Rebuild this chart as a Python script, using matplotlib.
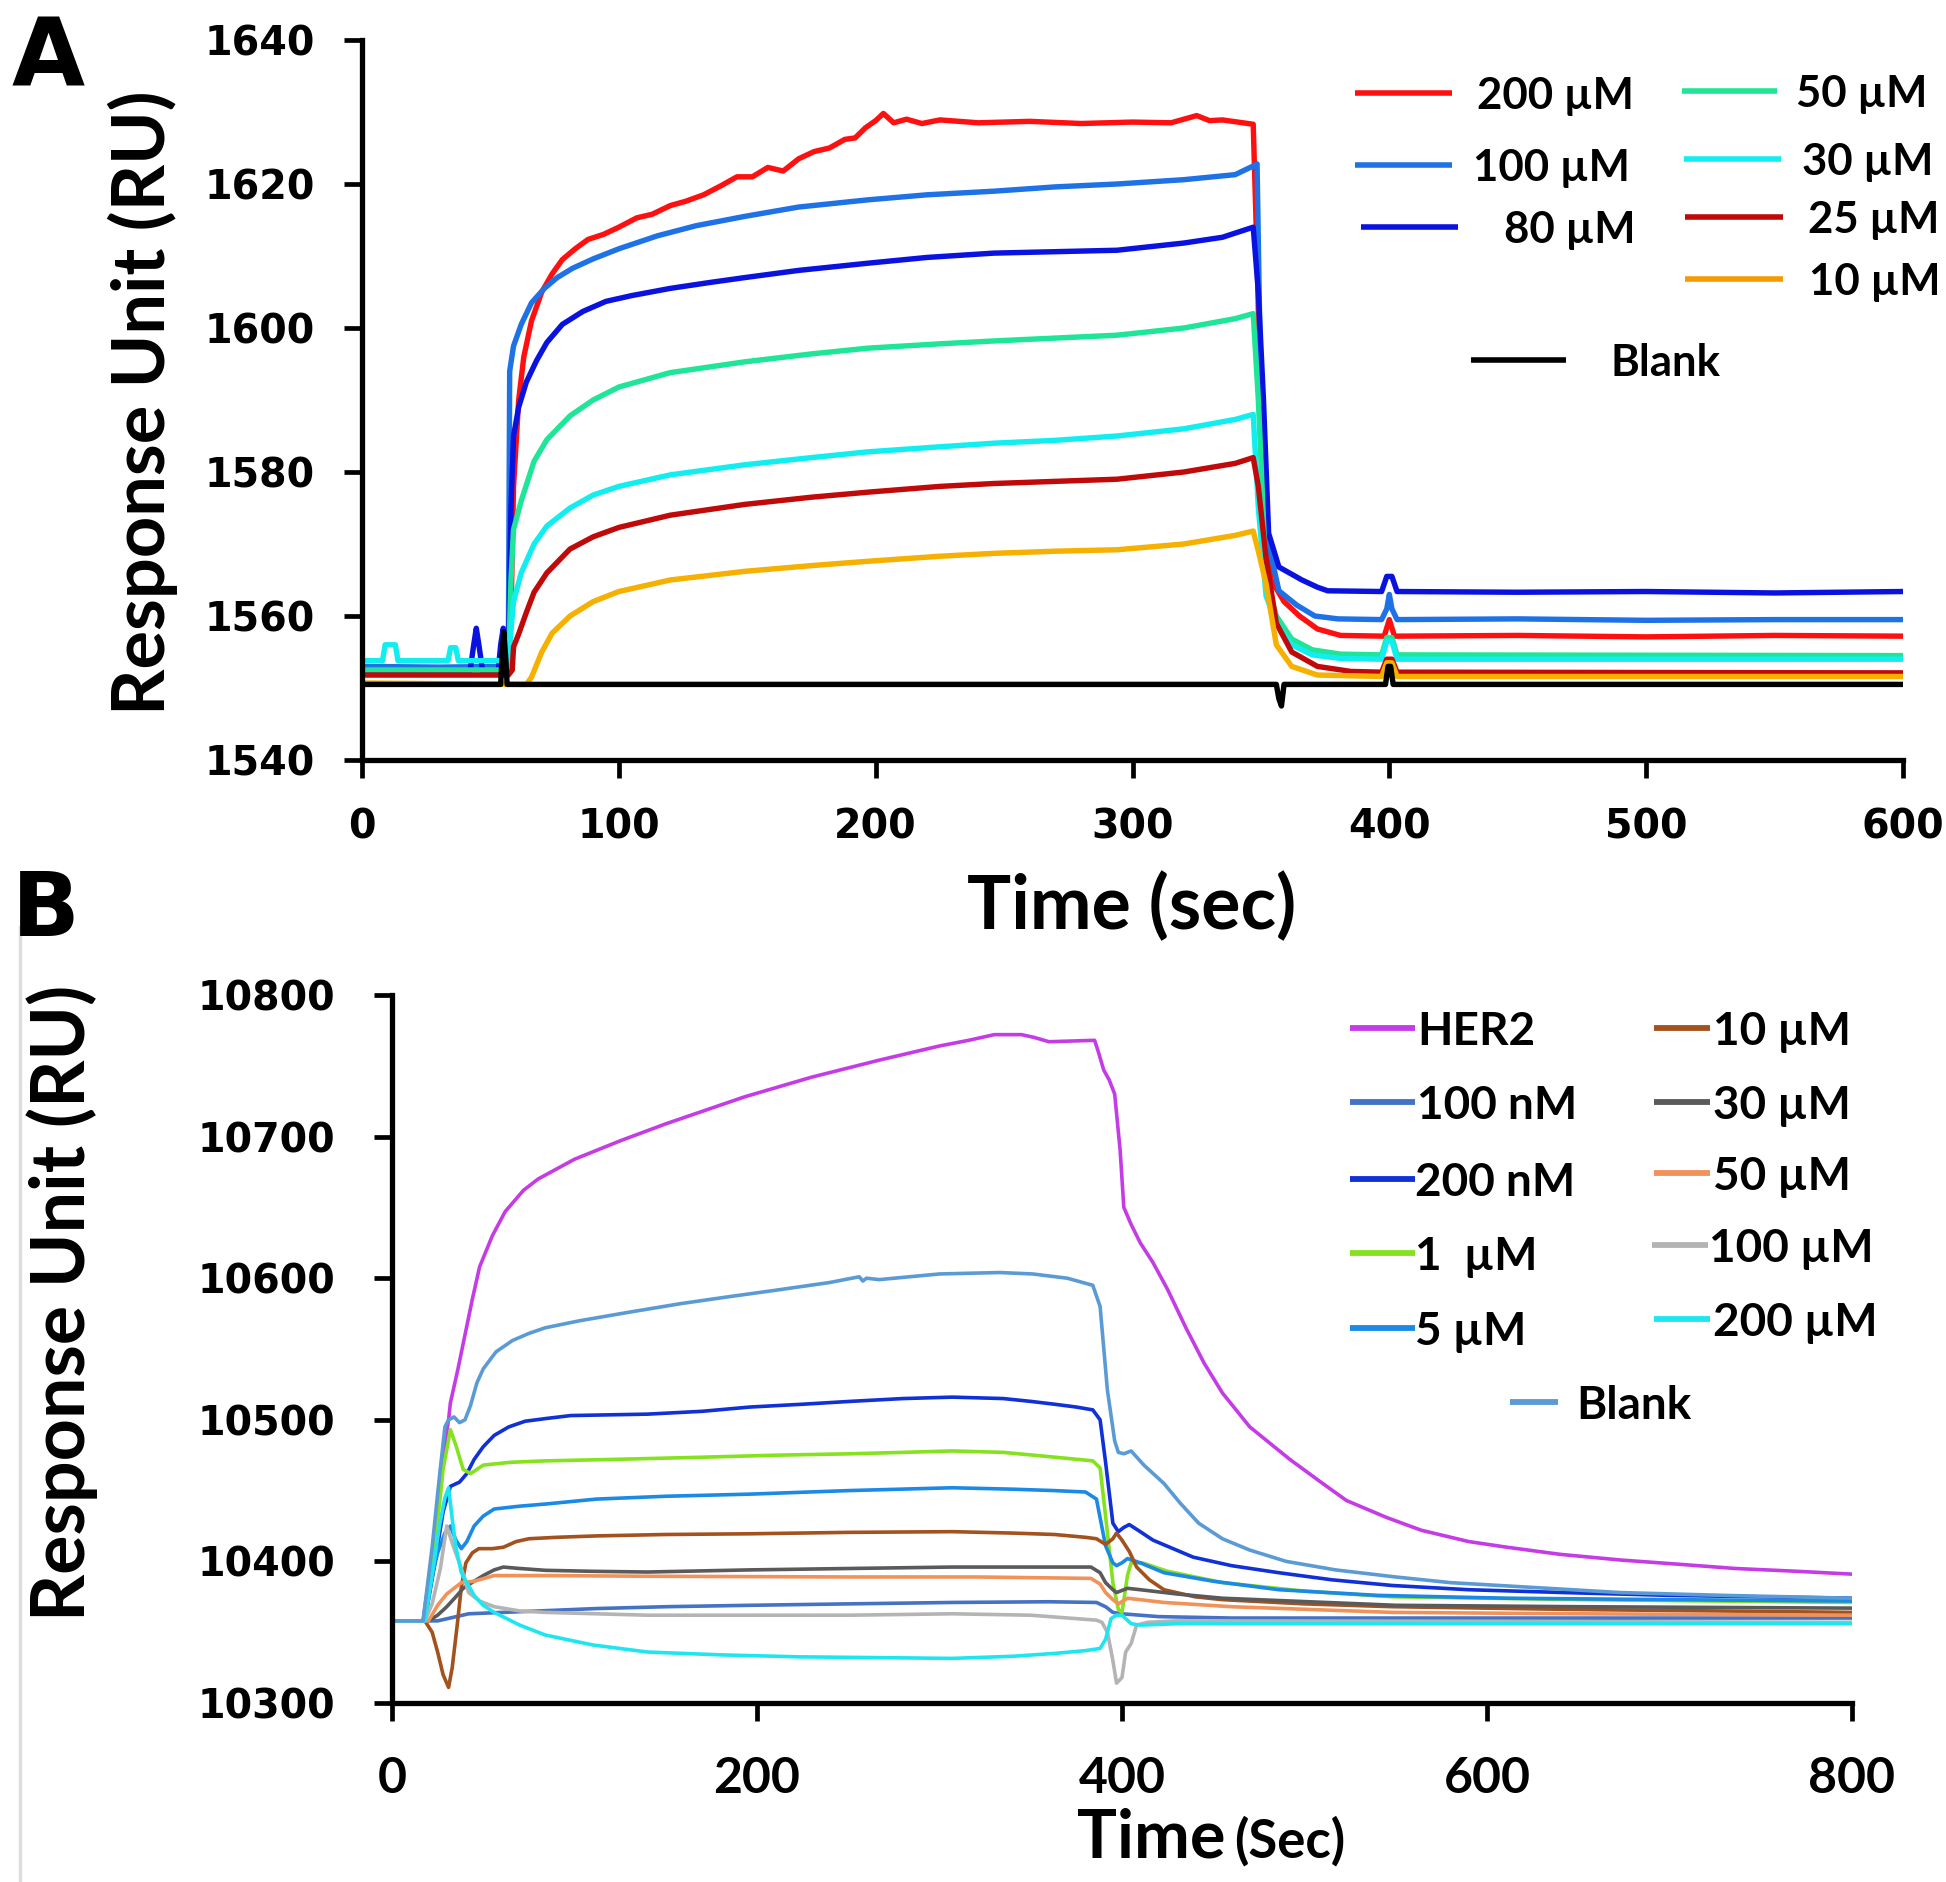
import matplotlib.pyplot as plt
from matplotlib.lines import Line2D

# ---------------- panel A data: (time s, response RU) ----------------
A_200uM = [(0, 1552.8), (30, 1552.6), (57, 1552.8), (58, 1560), (59, 1578), (61, 1590), (63, 1596),
           (66, 1601), (70, 1605), (74, 1607.5), (78, 1609.5), (83, 1611), (88, 1612.3), (94, 1613),
           (100, 1614), (107, 1615.3), (113, 1615.8), (120, 1617), (126, 1617.6), (133, 1618.5),
           (140, 1619.8), (146, 1621), (152, 1621), (158, 1622.3), (164, 1621.8), (170, 1623.5),
           (176, 1624.5), (182, 1625), (188, 1626.2), (192, 1626.4), (196, 1627.8), (200, 1628.8),
           (203, 1629.8), (207, 1628.5), (212, 1629), (218, 1628.4), (225, 1628.9), (240, 1628.5),
           (260, 1628.7), (280, 1628.4), (300, 1628.6), (315, 1628.5), (325, 1629.5), (330, 1628.8),
           (335, 1628.9), (347, 1628.3), (348.5, 1610), (351, 1572), (354, 1565), (359, 1562),
           (365, 1560), (372, 1558.2), (381, 1557.3), (398, 1557.2), (400, 1559.5), (402, 1557.2),
           (450, 1557.3), (500, 1557.1), (550, 1557.3), (600, 1557.2)]
A_100uM = [(0, 1553), (30, 1552.9), (56, 1553), (57, 1556), (57.5, 1594), (59, 1597.5), (62, 1600.5),
           (66, 1603.5), (71, 1605.5), (76, 1607), (82, 1608.3), (90, 1609.6), (100, 1611),
           (115, 1612.8), (130, 1614.2), (149, 1615.5), (170, 1616.8), (197, 1617.8), (220, 1618.5),
           (246, 1619), (270, 1619.6), (294, 1620), (320, 1620.6), (340, 1621.3), (347, 1622.5),
           (348.5, 1622.8), (350, 1590), (353, 1570), (357, 1563.5), (364, 1561.5), (371, 1560),
           (380, 1559.6), (397, 1559.5), (399, 1561), (400, 1563), (401, 1561), (403, 1559.5),
           (450, 1559.6), (500, 1559.4), (550, 1559.5), (600, 1559.5)]
A_80uM = [(0, 1552.2), (42, 1552.2), (43.5, 1556), (44.5, 1558.3), (45.5, 1556), (47, 1552.3),
          (53, 1552.3), (54, 1556), (55, 1558.3), (56, 1556), (57, 1553), (58, 1575), (59, 1585),
          (61, 1589), (64, 1592.5), (68, 1595.5), (72, 1598), (78, 1600.5), (86, 1602.3),
          (95, 1603.7), (105, 1604.5), (120, 1605.5), (135, 1606.3), (149, 1607), (170, 1608),
          (197, 1609), (220, 1609.8), (246, 1610.4), (270, 1610.6), (294, 1610.8), (320, 1611.8),
          (335, 1612.6), (347, 1614), (349, 1605), (351, 1590), (353, 1571.5), (357, 1566.8),
          (366, 1565), (372, 1564), (376, 1563.5), (397, 1563.4), (399, 1565.5), (401, 1565.5),
          (403, 1563.4), (450, 1563.3), (500, 1563.4), (550, 1563.2), (600, 1563.4)]
A_50uM = [(0, 1552.5), (57, 1552.5), (58, 1565), (59, 1572), (62, 1576), (67, 1581.5), (72, 1584.5),
          (81, 1587.8), (90, 1590), (100, 1591.8), (120, 1593.8), (149, 1595.3), (175, 1596.4),
          (197, 1597.2), (225, 1597.8), (246, 1598.2), (270, 1598.6), (294, 1599), (320, 1600),
          (340, 1601.3), (347, 1602), (349, 1590), (352, 1565), (356, 1560), (362, 1556.8),
          (370, 1555.3), (381, 1554.7), (397, 1554.6), (399, 1557), (401, 1557), (403, 1554.6),
          (600, 1554.5)]
A_30uM = [(0, 1553.8), (8, 1553.8), (9, 1556), (13, 1556), (14, 1553.8), (33.5, 1553.8), (34.5, 1555.6),
          (36.5, 1555.6), (37.5, 1553.8), (57, 1553.8), (58, 1558), (59, 1562), (62, 1566),
          (67, 1570), (72, 1572.5), (81, 1575), (90, 1576.8), (100, 1578), (120, 1579.6),
          (149, 1581), (175, 1582), (197, 1582.8), (225, 1583.5), (246, 1584), (270, 1584.4),
          (294, 1585), (320, 1586), (340, 1587.3), (347, 1588), (349, 1575), (352, 1562.8),
          (356, 1559), (362, 1556), (370, 1554.6), (381, 1554.1), (397, 1554), (399, 1556.5),
          (401, 1556.5), (403, 1554), (600, 1554)]
A_25uM = [(0, 1551.8), (57, 1551.8), (58.5, 1552.5), (59, 1555.7), (61, 1557.5), (64, 1560.5),
          (67, 1563.3), (72, 1566), (81, 1569.3), (90, 1571), (100, 1572.3), (120, 1574),
          (149, 1575.5), (175, 1576.5), (197, 1577.2), (225, 1578), (246, 1578.4), (270, 1578.7),
          (294, 1579), (320, 1580), (340, 1581.2), (347, 1582), (349, 1578), (352, 1568),
          (356, 1559), (362, 1555), (372, 1553), (385, 1552.3), (397, 1552.2), (399, 1554),
          (401, 1554), (403, 1552.2), (600, 1552.1)]
A_10uM = [(0, 1550.7), (64, 1550.5), (66, 1551.5), (70, 1555), (74, 1557.6), (81, 1560), (90, 1562),
          (100, 1563.4), (120, 1565), (149, 1566.2), (175, 1567), (197, 1567.6), (225, 1568.3),
          (246, 1568.7), (270, 1569), (294, 1569.2), (320, 1570), (340, 1571.2), (347, 1571.8),
          (349, 1569), (352, 1564.5), (356, 1556), (362, 1553), (372, 1551.8), (397, 1551.6),
          (399, 1553.5), (401, 1553.5), (403, 1551.6), (600, 1551.6)]
A_blank = [(0, 1550.5), (54, 1550.5), (54.5, 1554), (55.2, 1557.8), (56, 1554), (56.5, 1550.5),
           (356, 1550.5), (357, 1548.5), (358, 1547.5), (359, 1550.5), (398.5, 1550.5),
           (399.5, 1553), (400.5, 1553), (401.5, 1550.5), (600, 1550.5)]

A_series = [("200 µM", A_200uM, "#ff1010"), ("100 µM", A_100uM, "#1f72e6"),
            ("80 µM", A_80uM, "#0a12e0"), ("50 µM", A_50uM, "#1ee598"),
            ("30 µM", A_30uM, "#12eef0"), ("25 µM", A_25uM, "#c00a0a"),
            ("10 µM", A_10uM, "#f5b000"), ("Blank", A_blank, "black")]

# ---------------- panel B data ----------------
B_her2 = [(0, 10358), (17, 10358), (21, 10395), (26.5, 10453), (28, 10474), (31, 10500), (32, 10512),
          (36, 10535), (40, 10560), (44, 10585), (48, 10608), (55, 10630), (62, 10647), (72, 10662),
          (80, 10670), (100, 10684), (125, 10697), (150, 10709), (193, 10728), (230, 10742),
          (267, 10754), (300, 10764), (316, 10768), (330, 10772), (345, 10772), (352, 10770),
          (360, 10767), (385, 10768), (387, 10760), (390, 10747), (393, 10740), (396, 10730),
          (399, 10690), (401, 10650), (405, 10638), (410, 10625), (417, 10611), (425, 10592),
          (435, 10565), (445, 10540), (455, 10519), (470, 10495), (492, 10472), (510, 10455),
          (523, 10443), (545, 10431), (564, 10422), (590, 10414), (611, 10410), (640, 10405),
          (673, 10401), (705, 10398), (736, 10395), (770, 10393), (800, 10391)]
B_100nM = [(0, 10358), (25, 10358), (42, 10363), (80, 10365), (112, 10366.7), (150, 10368),
           (196, 10369), (250, 10370), (307, 10371), (360, 10371.5), (386, 10371), (391, 10368),
           (395, 10364), (400, 10363), (420, 10361), (460, 10360), (800, 10360)]
B_200nM = [(0, 10358), (18, 10358), (23, 10395), (28, 10435), (32, 10453), (37, 10456), (41, 10462),
           (45, 10472), (50, 10481), (56, 10489), (64, 10495), (73, 10499), (85, 10501), (98, 10503),
           (140, 10504), (170, 10506), (196, 10509), (225, 10511), (251, 10513), (280, 10515),
           (307, 10516), (335, 10515), (350, 10513), (363, 10511), (375, 10509), (384, 10507),
           (388, 10500), (391, 10470), (395, 10427), (398, 10421), (401, 10424), (404, 10426),
           (410, 10421), (417, 10415), (428, 10409), (439, 10403), (460, 10397), (486, 10392),
           (515, 10387), (548, 10383), (590, 10380), (642, 10378), (700, 10376), (800, 10374)]
B_1uM = [(0, 10358), (18, 10358), (22, 10400), (26, 10440), (28, 10465), (32, 10493), (35, 10482),
         (39, 10465), (43, 10462), (50, 10468), (65, 10470), (84, 10471), (120, 10472),
         (168, 10473.5), (210, 10475), (251, 10476), (280, 10477), (307, 10478), (335, 10477),
         (360, 10474), (384, 10471), (388, 10466), (391, 10432), (395, 10385), (398, 10366),
         (400, 10364), (403, 10390), (405, 10399), (411, 10399), (425, 10393), (455, 10385),
         (500, 10379), (548, 10375), (650, 10373), (800, 10371)]
B_5uM = [(0, 10358), (18, 10358), (22, 10390), (25, 10406), (29, 10420), (32, 10425), (35, 10415),
         (38, 10409), (41, 10414), (45, 10425), (50, 10432), (56, 10437), (70, 10439),
         (84, 10440.5), (112, 10444), (150, 10446), (196, 10447.5), (250, 10450), (307, 10452),
         (340, 10451), (363, 10450), (380, 10449), (386, 10444), (391, 10411), (395, 10399),
         (397, 10397), (400, 10399), (403, 10402), (410, 10399), (423, 10392), (450, 10386),
         (486, 10380), (540, 10376), (611, 10374), (700, 10373), (800, 10372)]
B_10uM = [(0, 10358), (18, 10358), (22, 10350), (25, 10336), (28, 10320), (31, 10311), (33, 10325),
          (36, 10358), (38, 10382), (40.5, 10399), (44, 10406), (47.5, 10409), (55, 10409),
          (61, 10410), (68, 10414), (75, 10416), (90, 10417), (112, 10418), (150, 10419),
          (196, 10419.5), (250, 10420.5), (307, 10421), (340, 10420), (363, 10419), (380, 10417),
          (386, 10416), (391, 10412), (395, 10416), (397, 10420), (400, 10415), (404, 10407),
          (408, 10396), (415, 10387), (423, 10380), (440, 10375), (455, 10373), (500, 10370),
          (548, 10368), (650, 10366), (800, 10364)]
B_30uM = [(0, 10358), (20, 10358), (25, 10362), (30, 10368), (35, 10375), (39, 10381), (45, 10386),
          (50, 10390), (56, 10394), (61, 10396), (70, 10395), (84, 10393.7), (110, 10393),
          (140, 10392.5), (196, 10394), (251, 10395), (307, 10396), (350, 10396), (383, 10396),
          (388, 10392), (391, 10385), (395, 10380), (397, 10378), (403, 10381), (410, 10380),
          (430, 10377), (455, 10374), (550, 10369), (650, 10368), (800, 10367)]
B_50uM = [(0, 10358), (20, 10358), (25, 10369), (30, 10377), (35, 10382), (38, 10385), (45, 10386),
          (56, 10390), (84, 10390), (140, 10389.5), (251, 10389), (320, 10389), (383, 10388),
          (388, 10384), (391, 10378), (395, 10373), (398, 10370), (403, 10374), (423, 10371),
          (460, 10368), (548, 10364), (650, 10363), (800, 10362)]
B_100uM = [(0, 10358), (18, 10358), (22, 10370), (26.5, 10395), (30, 10425), (33.5, 10411),
           (38, 10395), (42, 10378), (48, 10372), (56, 10368), (70, 10365), (84, 10364),
           (140, 10362), (200, 10362), (251, 10362), (307, 10363), (350, 10362), (386, 10358.5),
           (389, 10357), (392, 10350), (395, 10330), (397, 10314), (400, 10318), (402, 10336),
           (405, 10342), (408, 10355), (414, 10357), (430, 10358), (800, 10357)]
B_200uM = [(0, 10358), (18, 10358), (22, 10390), (26, 10425), (29, 10445), (31, 10452), (33, 10430),
           (35, 10410), (38, 10392), (45, 10376), (50, 10369), (56, 10364), (70, 10355), (84, 10348),
           (110, 10341), (140, 10336), (180, 10334), (223, 10332.6), (270, 10332), (307, 10331.5),
           (340, 10333), (363, 10335), (380, 10337), (388, 10338.5), (391, 10345), (394, 10359.6),
           (397, 10362), (400, 10362), (405, 10356), (410, 10355), (430, 10356), (800, 10356)]
B_blank = [(0, 10358), (17, 10358), (22, 10410), (26, 10460), (29, 10495), (31, 10500), (34, 10502),
           (37, 10498), (40, 10500), (43, 10510), (46.5, 10526), (50, 10536), (57, 10548),
           (66, 10556), (75, 10561), (84, 10565), (103, 10570), (130, 10576), (158, 10582),
           (185, 10587), (213, 10592), (240, 10597), (256, 10601), (258, 10598), (260, 10600),
           (267, 10599), (300, 10603), (333, 10604), (351, 10603), (370, 10600), (384, 10595),
           (388, 10580), (392, 10521), (396, 10485), (398, 10477), (401, 10476), (405, 10478),
           (412, 10468), (423, 10455), (432, 10441), (442, 10427), (455, 10416), (470, 10408),
           (490, 10400), (517, 10394), (550, 10389), (580, 10385), (620, 10382), (673, 10378),
           (730, 10376), (800, 10374)]

B_series = [("HER2", B_her2, "#c53ce6"), ("100 nM", B_100nM, "#4472c4"),
            ("200 nM", B_200nM, "#1030d8"), ("1  µM", B_1uM, "#84e21e"),
            ("5 µM", B_5uM, "#1a8ae6"), ("10 µM", B_10uM, "#a3521e"),
            ("30 µM", B_30uM, "#5a5a5a"), ("50 µM", B_50uM, "#f0925a"),
            ("100 µM", B_100uM, "#b4b4b4"), ("200 µM", B_200uM, "#1ee6f0"),
            ("Blank", B_blank, "#5b9bd5")]

A_yticks = [1540, 1560, 1580, 1600, 1620, 1640]
A_xticks = [0, 100, 200, 300, 400, 500, 600]
B_yticks = [10300, 10400, 10500, 10600, 10700, 10800]
B_xticks = [0, 200, 400, 600, 800]

W, H = 1946, 1882
fig = plt.figure(figsize=(W / 100, H / 100), dpi=100)


def fx(x):
    return x / W


def fy(y):
    return 1 - y / H


def style_axes(ax, xticks, yticks, xfont, xsize, xpad, yfont, ysize, ypad):
    for s in ["top", "right"]:
        ax.spines[s].set_visible(False)
    for s in ["left", "bottom"]:
        ax.spines[s].set_linewidth(3.8)
    ax.set_xticks(xticks)
    ax.set_yticks(yticks)
    ax.set_xlim(xticks[0], xticks[-1])
    ax.set_ylim(yticks[0], yticks[-1])
    ax.tick_params(direction="out", length=13, width=3.4)
    ax.tick_params(axis="x", pad=xpad)
    ax.tick_params(axis="y", pad=ypad)
    for lab in ax.get_xticklabels():
        lab.set_fontfamily(xfont)
        lab.set_fontsize(xsize)
        lab.set_fontweight("bold")
    for lab in ax.get_yticklabels():
        lab.set_fontfamily(yfont)
        lab.set_fontsize(ysize)
        lab.set_fontweight("bold")


def legend_entry(x0, x1, y, tx, label, color, size, lw):
    fig.add_artist(Line2D([fx(x0), fx(x1)], [fy(y), fy(y)], transform=fig.transFigure,
                          color=color, lw=lw, solid_capstyle="butt"))
    fig.text(fx(tx), fy(y), label, fontsize=size, fontweight="bold", family="Lato",
             ha="left", va="center_baseline")


# ---------------- panel A ----------------
axA = fig.add_axes([fx(362), fy(760), 1541 / W, 720 / H])
for name, pts, col in A_series:
    t = [p[0] for p in pts]
    v = [p[1] for p in pts]
    axA.plot(t, v, color=col, lw=3.9, solid_joinstyle="round")
style_axes(axA, A_xticks, A_yticks, "DejaVu Sans", 28.5, 21, "DejaVu Sans", 28.5, 21)

fig.text(fx(143), fy(403), "Response Unit (RU)", rotation=90, ha="center", va="center",
         fontsize=52, family="Lato", fontweight="bold")
fig.text(fx(1132), fy(907), "Time (sec)", ha="center", va="center",
         fontsize=53, family="Lato", fontweight="bold")
fig.text(fx(48), fy(60), "A", ha="center", va="center", fontsize=68,
         family="DejaVu Sans", fontweight="bold")

A_leg = [("200 µM", 1355, 1452, 93, 1477), ("100 µM", 1355, 1452, 165, 1473),
         ("80 µM", 1361, 1458, 227, 1504), ("50 µM", 1682, 1777, 91, 1796),
         ("30 µM", 1684, 1781, 159, 1802), ("25 µM", 1685, 1783, 217, 1808),
         ("10 µM", 1685, 1783, 279, 1809), ("Blank", 1471, 1566, 360, 1610)]
A_leg_colors = {"200 µM": "#ff1010", "100 µM": "#1f72e6", "80 µM": "#0a12e0",
                "50 µM": "#1ee598", "30 µM": "#12eef0", "25 µM": "#c00a0a",
                "10 µM": "#f59a00", "Blank": "black"}
for lab, x0, x1, y, tx in A_leg:
    legend_entry(x0, x1, y, tx, lab, A_leg_colors[lab], 31.5, 4)

# ---------------- panel B ----------------
axB = fig.add_axes([fx(392), fy(1703), 1460 / W, 708 / H])
for name, pts, col in B_series:
    t = [p[0] for p in pts]
    v = [p[1] for p in pts]
    axB.plot(t, v, color=col, lw=2.6)
style_axes(axB, B_xticks, B_yticks, "Lato", 36, 25, "DejaVu Sans", 28.5, 28)

fig.text(fx(62), fy(1303), "Response Unit (RU)", rotation=90, ha="center", va="center",
         fontsize=53, family="Lato", fontweight="bold")
fig.text(fx(1226), fy(1858), "Time", ha="right", va="baseline",
         fontsize=48, family="Lato", fontweight="bold")
fig.text(fx(1234), fy(1858), "(Sec)", ha="left", va="baseline",
         fontsize=38, family="Lato", fontweight="bold")
fig.text(fx(46), fy(912), "B", ha="center", va="center", fontsize=64,
         family="DejaVu Sans", fontweight="bold")

B_leg_colors = {lab: col for lab, pts, col in B_series}
B_leg = [("HER2", 1350, 1415, 1028, 1417), ("100 nM", 1350, 1415, 1102, 1417),
         ("200 nM", 1350, 1415, 1179, 1415), ("1  µM", 1350, 1415, 1253, 1415),
         ("5 µM", 1350, 1415, 1328, 1415), ("10 µM", 1654, 1710, 1028, 1713),
         ("30 µM", 1654, 1710, 1102, 1713), ("50 µM", 1654, 1710, 1173, 1713),
         ("100 µM", 1652, 1708, 1245, 1709), ("200 µM", 1654, 1710, 1319, 1713),
         ("Blank", 1510, 1558, 1402, 1576)]
for lab, x0, x1, y, tx in B_leg:
    legend_entry(x0, x1, y, tx, lab, B_leg_colors[lab], 33, 4.2)

# faint crop line at the left of panel B
fig.add_artist(Line2D([fx(20), fx(20)], [fy(927), 0], transform=fig.transFigure,
                      color="#dddddd", lw=2.5))

fig.savefig("out.png", dpi=100)
